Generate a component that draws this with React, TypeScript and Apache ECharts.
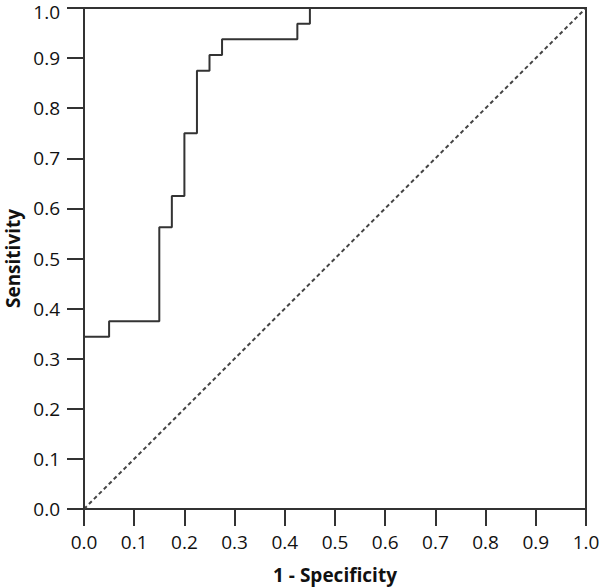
import React, { useEffect, useRef } from "react";
import * as echarts from "echarts";

const fpr = [0, 0, 0.05, 0.15, 0.175, 0.2, 0.225, 0.25, 0.275, 0.425, 0.45, 1];
const tpr = [0, 0.34375, 0.375, 0.5625, 0.625, 0.75, 0.875, 0.90625, 0.9375, 0.96875, 1, 1];
const refX = [0, 1];
const refY = [0, 1];
const tickLabels = ["0.0", "0.1", "0.2", "0.3", "0.4", "0.5", "0.6", "0.7", "0.8", "0.9", "1.0"];

const FONT = "'Open Sans', 'Noto Sans', sans-serif";
const LINE = "#333333";

export default function App() {
  const ref = useRef<HTMLDivElement>(null);
  useEffect(() => {
    if (!ref.current) return;
    const chart = echarts.init(ref.current, undefined, { renderer: "svg" });
    const labelStyle = {
      fontFamily: FONT,
      fontSize: 19,
      lineHeight: 14,
      color: "#111",
    };
    const axisCommon = {
      type: "value" as const,
      min: 0,
      max: 1,
      interval: 0.1,
      nameLocation: "middle" as const,
      nameTextStyle: { fontFamily: FONT, fontSize: 19, fontWeight: "bold" as const, color: "#111", lineHeight: 16 },
      axisLine: { show: true, lineStyle: { color: LINE, width: 2 } },
      axisTick: { show: true, length: 17, lineStyle: { color: LINE, width: 2 } },
      splitLine: { show: false },
    };
    chart.setOption({
      animation: false,
      backgroundColor: "#ffffff",
      grid: {
        left: 84,
        right: 14,
        top: 8,
        bottom: 79,
        show: true,
        borderColor: LINE,
        borderWidth: 2,
        outerBoundsMode: "none",
        containLabel: false,
      },
      xAxis: {
        ...axisCommon,
        name: "1 - Specificity",
        nameGap: 58,
        axisLabel: {
          ...labelStyle,
          margin: 26,
          formatter: (v: number) => tickLabels[Math.round(v * 10)],
        },
      },
      yAxis: {
        ...axisCommon,
        name: "Sensitivity",
        nameGap: 63,
        axisLabel: {
          ...labelStyle,
          margin: 24,
          formatter: (v: number) => {
            const t = tickLabels[Math.round(v * 10)];
            return v >= 1 ? `{top|${t}}` : t;
          },
          rich: {
            top: { ...labelStyle, padding: [8, 0, 0, 0] },
          },
        },
      },
      series: [
        {
          type: "line",
          data: refX.map((x, i) => [x, refY[i]]),
          symbol: "none",
          lineStyle: { color: "#444", width: 2, type: [4, 3] },
          z: 2,
        },
        {
          type: "line",
          step: "end",
          data: fpr.map((x, i) => [x, tpr[i]]),
          symbol: "none",
          lineStyle: { color: LINE, width: 2 },
          z: 3,
        },
      ],
    });
    return () => chart.dispose();
  }, []);
  return <div ref={ref} style={{ width: 600, height: 588, position: "absolute", left: 0, top: 0 }} />;
}
